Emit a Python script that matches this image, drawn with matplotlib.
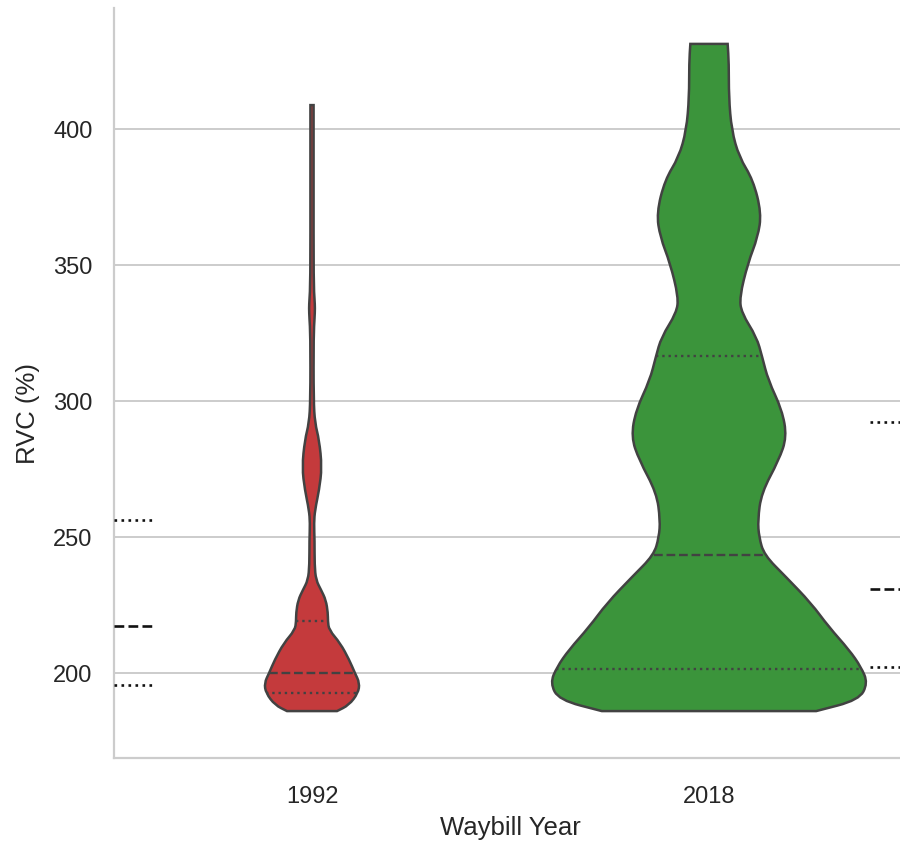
import numpy as np
import matplotlib
matplotlib.use("Agg")
import matplotlib.pyplot as plt
from matplotlib.path import Path
from matplotlib.patches import PathPatch

plt.rcParams["font.family"] = ["Liberation Sans", "DejaVu Sans"]

years = ["1992", "2018"]
colors = ["#c43a3c", "#3b943b"]

# violin outlines, bottom to top: RVC value and half width (category units)
rvc_1992 = [186.0, 188.2, 192.6, 196.3, 200.0, 204.8, 211.0, 215.8, 219.1, 222.1,
            226.8, 230.5, 234.2, 239.7, 248.9, 255.1, 259.9, 267.3, 275.7, 285.7,
            291.9, 300.4, 324.3, 330.5, 334.2, 337.1, 343.4, 380.0, 408.8]
hw_1992 = [0.063, 0.093, 0.116, 0.120, 0.108, 0.094, 0.071, 0.043, 0.040, 0.040,
           0.035, 0.023, 0.010, 0.0065, 0.0065, 0.005, 0.0075, 0.018, 0.025, 0.018,
           0.0075, 0.004, 0.004, 0.0065, 0.0075, 0.0065, 0.004, 0.004, 0.004]

rvc_2018 = [186.0, 190.1, 196.3, 202.2, 208.5, 216.9, 225.7, 235.3, 243.4, 250.0,
            256.2, 266.2, 278.3, 286.8, 296.7, 307.7, 316.2, 323.5, 332.4, 338.2,
            350.7, 360.3, 369.1, 381.3, 389.7, 399.6, 411.8, 424.3, 431.3]
hw_2018 = [0.270, 0.378, 0.400, 0.383, 0.353, 0.302, 0.257, 0.194, 0.139, 0.126,
           0.123, 0.132, 0.176, 0.196, 0.184, 0.149, 0.134, 0.120, 0.082, 0.077,
           0.098, 0.123, 0.132, 0.111, 0.076, 0.057, 0.050, 0.050, 0.047]

# quartiles: Q1, median, Q3
quart_1992 = [192.6, 200.0, 219.1]
quart_2018 = [201.5, 243.4, 316.5]

# quartile marks of the neighbouring groups that reach into the frame
left_quart = [195.6, 217.3, 256.2]
right_quart = [202.2, 230.9, 292.3]

edge = "#424242"
quart_styles = [":", "--", ":"]


def violin_path(pos, vals, hws):
    right = [(pos + w, v) for v, w in zip(vals, hws)]
    left = [(pos - w, v) for v, w in zip(vals[::-1], hws[::-1])]
    verts, codes = [right[0]], [Path.MOVETO]
    for side in (right, left):
        if side is left:
            verts.append(side[0]); codes.append(Path.LINETO)
        verts.append(((side[0][0] + side[1][0]) / 2, (side[0][1] + side[1][1]) / 2))
        codes.append(Path.LINETO)
        for i in range(1, len(side) - 1):
            nxt = ((side[i][0] + side[i + 1][0]) / 2, (side[i][1] + side[i + 1][1]) / 2)
            verts += [side[i], nxt]
            codes += [Path.CURVE3, Path.CURVE3]
        verts.append(side[-1]); codes.append(Path.LINETO)
    verts.append(right[0]); codes.append(Path.CLOSEPOLY)
    return Path(verts, codes)


fig = plt.figure(figsize=(9, 8.42), dpi=100)
ax = fig.add_axes([113.5 / 900, 84 / 842, 794 / 900, 750 / 842])

for i, (vals, hws, quarts) in enumerate([(rvc_1992, hw_1992, quart_1992),
                                         (rvc_2018, hw_2018, quart_2018)]):
    ax.add_patch(PathPatch(violin_path(i, vals, hws), facecolor=colors[i],
                           edgecolor=edge, lw=1.8, zorder=2))
    for q, ls in zip(quarts, quart_styles):
        w = np.interp(q, vals, hws)
        ax.plot([i - w, i + w], [q, q], color=edge, ls=ls, lw=1.7, zorder=3)

for q, ls in zip(left_quart, quart_styles):
    ax.plot([-0.5, -0.403], [q, q], color="#111111", ls=ls, lw=1.9, zorder=3)
for q, ls in zip(right_quart, quart_styles):
    ax.plot([1.405, 1.5], [q, q], color="#111111", ls=ls, lw=1.9, zorder=3)

ax.set_xlim(-0.5, 1.5)
ax.set_ylim(168.75, 444.5)
ax.set_xticks([0, 1])
ax.set_xticklabels(years)
ax.set_yticks([200, 250, 300, 350, 400])
ax.grid(axis="y", color="#cccccc", lw=1.4, zorder=0)
ax.set_axisbelow(True)
ax.tick_params(length=0, labelsize=17, colors="#262626")
ax.tick_params(axis="x", pad=20)
ax.tick_params(axis="y", pad=15)
for s in ["top", "right"]:
    ax.spines[s].set_visible(False)
for s in ["left", "bottom"]:
    ax.spines[s].set_color("#cccccc")
    ax.spines[s].set_linewidth(1.6)
ax.set_xlabel("Waybill Year", fontsize=18.5, color="#262626", labelpad=6)
ax.set_ylabel("RVC (%)", fontsize=18.5, color="#262626")
ax.yaxis.set_label_coords(-0.093, 0.46)

fig.savefig("out.png", dpi=100)
